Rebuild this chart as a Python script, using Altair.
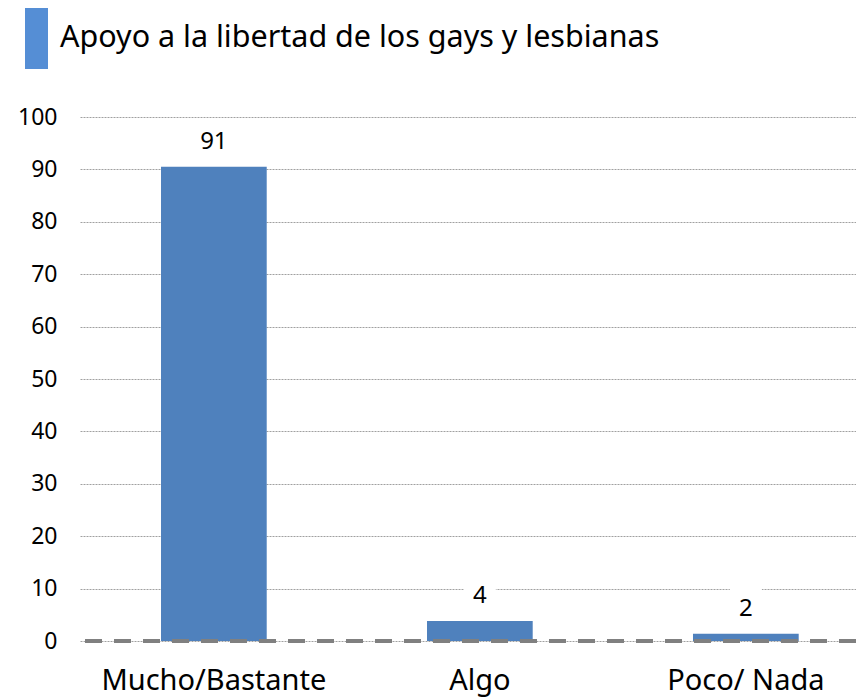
import altair as alt
import pandas as pd

categories = ["Mucho/Bastante", "Algo", "Poco/ Nada"]
bar_values = [90.5, 3.8, 1.4]
value_labels = ["91", "4", "2"]
y_ticks = [0, 10, 20, 30, 40, 50, 60, 70, 80, 90, 100]
title_text = "Apoyo a la libertad de los gays y lesbianas"

FONT = "Noto Sans"
BAR = "#4F81BD"
ACCENT = "#558ED5"

df = pd.DataFrame({"cat": categories, "value": bar_values, "label": value_labels})

x_enc = alt.X(
    "cat:N",
    sort=categories,
    scale=alt.Scale(paddingInner=0.6026, paddingOuter=0.26, align=0.5857),
    axis=alt.Axis(
        title=None, labelAngle=0, domain=False, ticks=False,
        labelAlign="center", labelBaseline="top", labelLimit=0,
        labelOverlap=False, labelFlush=False, labelBound=False,
        labelFontSize=29, labelFont=FONT, labelColor="black", labelPadding=25,
    ),
)
y_enc = alt.Y(
    "value:Q",
    scale=alt.Scale(domain=[0, 100], nice=False, zero=True),
    axis=alt.Axis(
        title=None, values=y_ticks, domain=False, ticks=False,
        labelFontSize=23, labelFont=FONT, labelColor="black", labelPadding=23,
        grid=True, gridDash=[2, 1], gridColor="#a0a0a0", gridWidth=1,
    ),
)

base = alt.Chart(df)

bars = base.mark_bar(color=BAR).encode(x=x_enc, y=y_enc)

label_bg = base.mark_point(
    shape="M-0.8,-1L0.8,-1L0.8,1L-0.8,1Z", size=1600, filled=True,
    color="white", opacity=1, strokeWidth=0, yOffset=-27,
).encode(x=alt.X("cat:N", sort=categories), y="value:Q")

labels = base.mark_text(
    fontSize=24, font=FONT, color="black", baseline="alphabetic", dy=-18,
).encode(x=alt.X("cat:N", sort=categories), y="value:Q", text="label:N")

zero_line = base.mark_rule(
    color="#808080", strokeWidth=4, strokeDash=[17, 12],
).encode(y=alt.datum(0))

deco = pd.DataFrame({"t": [title_text]})
accent = alt.Chart(deco).mark_rect(color=ACCENT).encode(
    x=alt.value(-55), x2=alt.value(-32), y=alt.value(-109), y2=alt.value(-48)
)
title_mark = alt.Chart(deco).mark_text(
    fontSize=30.5, font=FONT, color="black", align="left", baseline="alphabetic",
).encode(x=alt.value(-20), y=alt.value(-70), text="t:N")

chart = alt.layer(label_bg, bars, labels, zero_line, accent, title_mark).properties(
    width=776,
    height=524,
    padding={"left": 72, "top": 109, "right": 0, "bottom": 57},
    autosize=alt.AutoSizeParams(type="none"),
).configure_view(stroke=None)

chart.save("out.html", embed_options={"renderer": "svg", "actions": False})
